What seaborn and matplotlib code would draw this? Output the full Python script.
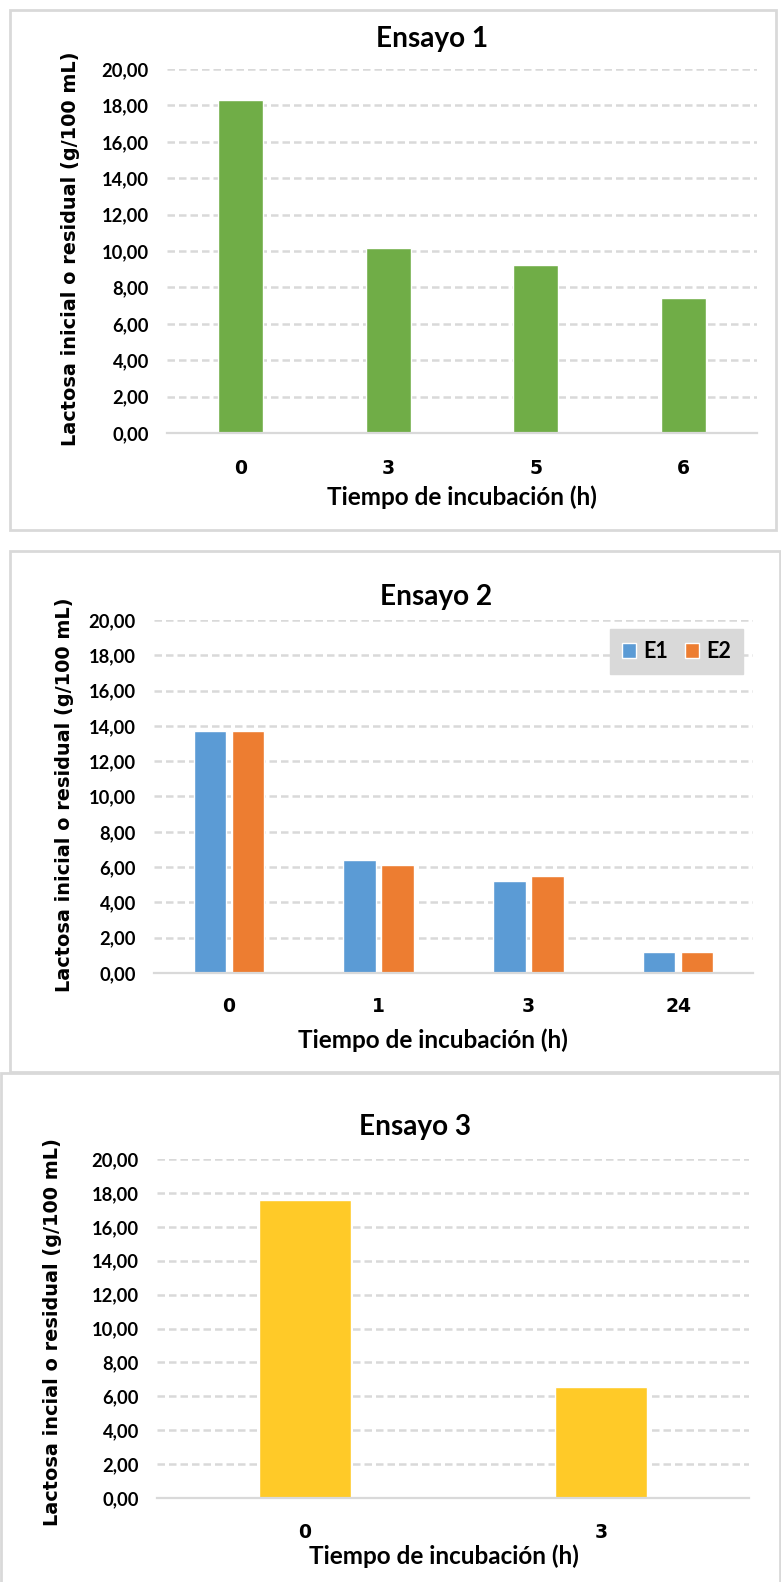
import matplotlib
matplotlib.use("Agg")
import matplotlib.pyplot as plt
import seaborn as sns
import pandas as pd
from matplotlib.ticker import FuncFormatter, MultipleLocator
from matplotlib.patches import Rectangle

# ---- data ----
e1_times = ["0", "3", "5", "6"]
e1_values = [18.30, 10.15, 9.25, 7.42]

e2_times = ["0", "1", "3", "24"]
e2_series = ["E1", "E2"]
e2_E1 = [13.72, 6.42, 5.19, 1.21]
e2_E2 = [13.72, 6.14, 5.49, 1.21]

e3_times = ["0", "3"]
e3_values = [17.58, 6.55]

titles = ["Ensayo 1", "Ensayo 2", "Ensayo 3"]
xlabel = "Tiempo de incubación (h)"
ylabels = ["Lactosa inicial o residual (g/100 mL)",
           "Lactosa inicial o residual (g/100 mL)",
           "Lactosa incial o residual (g/100 mL)"]

GREEN, BLUE, ORANGE, YELLOW = "#70AD47", "#5B9BD5", "#ED7D31", "#FFCA28"
GRID = "#D9D9D9"

sns.set_theme(style="white")
NARROW = ["Lato", "DejaVu Sans"]
WIDE = ["DejaVu Sans"]
plt.rcParams["font.family"] = NARROW

W, H = 781, 1582
fig = plt.figure(figsize=(W / 100, H / 100), dpi=100)


def rect(x0, yt, x1, yb):
    return [x0 / W, 1 - yb / H, (x1 - x0) / W, (yb - yt) / H]


def fx(x):
    return x / W


def fy(y):
    return 1 - y / H


# panel borders
for (x0, y0, x1, y1) in [(10, 10, 776, 530), (10, 551, 780, 1072), (1, 1073, 780, 1590)]:
    fig.patches.append(Rectangle((fx(x0), fy(y1)), (x1 - x0) / W, (y1 - y0) / H,
                                 transform=fig.transFigure, fill=False,
                                 edgecolor=GRID, linewidth=2.0, zorder=0))

fmt = FuncFormatter(lambda v, p: f"{v:.2f}".replace(".", ","))


def style(ax, title, ylabel, title_xy, xlab_xy, ylab_xy, xpad):
    ax.set_ylim(0, 20)
    ax.yaxis.set_major_locator(MultipleLocator(2))
    ax.yaxis.set_major_formatter(fmt)
    ax.grid(axis="y", color=GRID, linestyle=(0, (3, 1.6)), linewidth=1.8)
    ax.grid(axis="x", visible=False)
    ax.set_axisbelow(True)
    for s in ["left", "top", "right"]:
        ax.spines[s].set_visible(False)
    ax.spines["bottom"].set_color(GRID)
    ax.spines["bottom"].set_linewidth(1.6)
    ax.spines["bottom"].set_zorder(3)
    ax.tick_params(axis="both", length=0, colors="#000000")
    ax.tick_params(axis="y", pad=13.0, labelsize=13.2)
    ax.tick_params(axis="x", pad=xpad, labelsize=13.5)
    for lab in ax.get_yticklabels():
        lab.set_fontweight("bold")
        lab.set_family(NARROW)
    for lab in ax.get_xticklabels():
        lab.set_fontweight("bold")
        lab.set_family(WIDE)
    ax.set_xlabel("")
    ax.set_ylabel("")
    fig.text(fx(title_xy[0]), fy(title_xy[1]), title, ha="center", va="baseline",
             fontsize=20.2, fontweight="bold", color="#000000")
    fig.text(fx(xlab_xy[0]), fy(xlab_xy[1]), xlabel, ha="center", va="baseline",
             fontsize=17.5, fontweight="bold", color="#000000")
    fig.text(fx(ylab_xy[0]), fy(ylab_xy[1]), ylabel, ha="center", va="center",
             rotation=90, family=WIDE, fontsize=13.9, fontweight="bold", color="#000000")


# ---- Ensayo 1 ----
ax1 = fig.add_axes(rect(167, 69, 757, 433))
df1 = pd.DataFrame({"t": e1_times, "v": e1_values})
sns.barplot(data=df1, x="t", y="v", color=GREEN, saturation=1, width=0.305, ax=ax1)
style(ax1, titles[0], ylabels[0], (432, 47), (462, 505), (71, 249), 18.7)

# ---- Ensayo 2 ----
ax2 = fig.add_axes(rect(154, 620, 753, 973))
df2 = pd.DataFrame({
    "t": e2_times * 2,
    "v": e2_E1 + e2_E2,
    "s": [e2_series[0]] * len(e2_times) + [e2_series[1]] * len(e2_times),
})
sns.barplot(data=df2, x="t", y="v", hue="s", palette=[BLUE, ORANGE], saturation=1,
            width=0.507, gap=0.14, ax=ax2)
style(ax2, titles[1], ylabels[1], (436, 605), (433, 1048), (65, 795), 17.3)
leg = ax2.legend(loc="center", bbox_to_anchor=(fx((612 + 741) / 2), fy((628 + 675) / 2)),
                 bbox_transform=fig.transFigure, ncol=2, frameon=True,
                 fancybox=False, handlelength=0.68, handleheight=0.68,
                 handletextpad=0.34, columnspacing=0.75, borderpad=0.55,
                 borderaxespad=0,
                 prop={"family": NARROW, "weight": "bold", "size": 15.5})
for t in leg.get_texts():
    t.set_fontweight("bold")
    t.set_color("#000000")
leg.get_frame().set_facecolor(GRID)
leg.get_frame().set_edgecolor(GRID)
leg.get_frame().set_alpha(1)

# ---- Ensayo 3 ----
ax3 = fig.add_axes(rect(157, 1159, 749, 1498))
df3 = pd.DataFrame({"t": e3_times, "v": e3_values})
sns.barplot(data=df3, x="t", y="v", color=YELLOW, saturation=1, width=0.313, ax=ax3)
style(ax3, titles[2], ylabels[2], (415, 1135), (444, 1564), (53, 1332), 18)

fig.savefig("out.png", dpi=100, facecolor="white")
